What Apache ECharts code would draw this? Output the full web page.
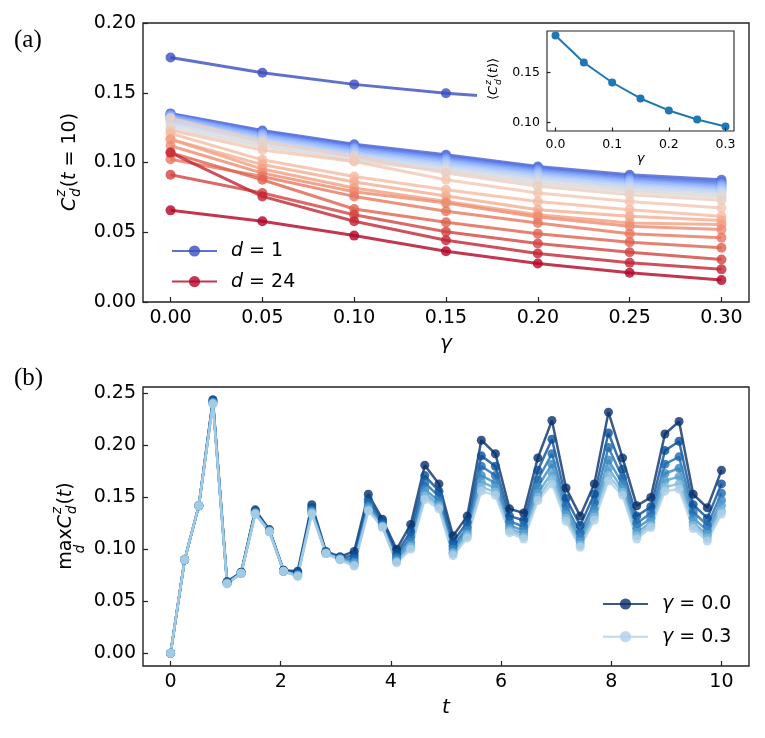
<!DOCTYPE html>
<html>
<head>
<meta charset="utf-8">
<script src="https://cdn.jsdelivr.net/npm/echarts@6/dist/echarts.min.js"></script>
<style>
  html, body { margin: 0; padding: 0; background: #fff; }
  #chart { width: 765px; height: 738px; }
</style>
</head>
<body>
<div id="chart"></div>
<script>
// ---- panel (a): C_d^z(t=10) vs gamma, one row per distance d ----
const gammaA = [0, 0.05, 0.10, 0.15, 0.20, 0.25, 0.30];
const d1  = [0.1753, 0.1643, 0.1560, 0.1496, 0.1450, 0.1410, 0.1380];
const d2  = [0.1352, 0.1229, 0.1131, 0.1055, 0.0971, 0.0912, 0.0876];
const d3  = [0.1348, 0.1222, 0.1122, 0.1045, 0.0962, 0.0900, 0.0862];
const d4  = [0.1344, 0.1215, 0.1114, 0.1036, 0.0953, 0.0891, 0.0852];
const d5  = [0.1340, 0.1208, 0.1106, 0.1028, 0.0945, 0.0883, 0.0843];
const d6  = [0.1335, 0.1201, 0.1098, 0.1020, 0.0937, 0.0875, 0.0835];
const d7  = [0.1328, 0.1193, 0.1089, 0.1011, 0.0928, 0.0866, 0.0826];
const d8  = [0.1320, 0.1184, 0.1079, 0.1001, 0.0918, 0.0856, 0.0816];
const d9  = [0.1310, 0.1173, 0.1068, 0.0990, 0.0907, 0.0845, 0.0805];
const d10 = [0.1298, 0.1161, 0.1056, 0.0978, 0.0895, 0.0833, 0.0793];
const d11 = [0.1282, 0.1147, 0.1042, 0.0964, 0.0881, 0.0819, 0.0780];
const d12 = [0.1262, 0.1130, 0.1026, 0.0948, 0.0866, 0.0804, 0.0765];
const d13 = [0.1240, 0.1115, 0.1010, 0.0940, 0.0850, 0.0790, 0.0750];
const d14 = [0.1317, 0.1150, 0.1043, 0.0925, 0.0829, 0.0769, 0.0729];
const d15 = [0.1230, 0.1090, 0.1007, 0.0876, 0.0781, 0.0721, 0.0674];
const d16 = [0.1209, 0.1019, 0.0900, 0.0805, 0.0721, 0.0662, 0.0614];
const d17 = [0.1167, 0.0985, 0.0860, 0.0760, 0.0662, 0.0614, 0.0585];
const d18 = [0.1167, 0.0953, 0.0817, 0.0721, 0.0626, 0.0567, 0.0555];
const d19 = [0.1120, 0.0924, 0.0790, 0.0710, 0.0610, 0.0543, 0.0519];
const d20 = [0.1024, 0.0900, 0.0757, 0.0650, 0.0567, 0.0490, 0.0460];
const d21 = [0.1071, 0.0876, 0.0667, 0.0571, 0.0490, 0.0429, 0.0389];
const d22 = [0.0912, 0.0781, 0.0626, 0.0503, 0.0419, 0.0357, 0.0305];
const d23 = [0.1071, 0.0757, 0.0579, 0.0443, 0.0348, 0.0281, 0.0234];
const d24 = [0.0657, 0.0579, 0.0476, 0.0364, 0.0276, 0.0210, 0.0157];
const dRows = [d1, d2, d3, d4, d5, d6, d7, d8, d9, d10, d11, d12,
               d13, d14, d15, d16, d17, d18, d19, d20, d21, d22, d23, d24];

// inset: <C_d^z(t)> vs gamma
const insetMean = [0.187, 0.160, 0.140, 0.124, 0.112, 0.103, 0.096];

// ---- panel (b): max_d C_d^z(t) vs t, one row per gamma ----
const tVals = [0, 0.256, 0.513, 0.769, 1.026, 1.282, 1.538, 1.795, 2.051, 2.308,
  2.564, 2.821, 3.077, 3.333, 3.590, 3.846, 4.103, 4.359, 4.615, 4.872,
  5.128, 5.385, 5.641, 5.897, 6.154, 6.410, 6.667, 6.923, 7.179, 7.436,
  7.692, 7.949, 8.205, 8.462, 8.718, 8.974, 9.231, 9.487, 9.744, 10];
const g000 = [0, 0.090, 0.142, 0.244, 0.069, 0.078, 0.138, 0.119, 0.080, 0.079, 0.143, 0.098, 0.093, 0.098, 0.153, 0.129, 0.100, 0.124, 0.181, 0.163, 0.113, 0.132, 0.205, 0.192, 0.139, 0.135, 0.188, 0.224, 0.159, 0.132, 0.163, 0.232, 0.188, 0.142, 0.150, 0.211, 0.223, 0.153, 0.140, 0.176];
const g005 = [0, 0.090, 0.142, 0.243, 0.068, 0.078, 0.137, 0.118, 0.080, 0.0775, 0.140, 0.097, 0.092, 0.094, 0.148, 0.127, 0.096, 0.117, 0.171, 0.156, 0.107, 0.126, 0.190, 0.180, 0.132, 0.128, 0.176, 0.206, 0.149, 0.123, 0.153, 0.212, 0.177, 0.132, 0.141, 0.195, 0.204, 0.143, 0.130, 0.163];
const g010 = [0, 0.090, 0.142, 0.242, 0.068, 0.077, 0.136, 0.118, 0.079, 0.0764, 0.138, 0.097, 0.091, 0.091, 0.145, 0.125, 0.093, 0.112, 0.164, 0.151, 0.103, 0.121, 0.180, 0.171, 0.127, 0.122, 0.167, 0.192, 0.142, 0.116, 0.145, 0.198, 0.169, 0.125, 0.135, 0.182, 0.189, 0.136, 0.123, 0.154];
const g015 = [0, 0.090, 0.142, 0.241, 0.068, 0.077, 0.135, 0.118, 0.079, 0.0756, 0.137, 0.097, 0.091, 0.088, 0.142, 0.123, 0.091, 0.107, 0.158, 0.146, 0.100, 0.118, 0.171, 0.164, 0.123, 0.118, 0.160, 0.182, 0.137, 0.111, 0.139, 0.186, 0.163, 0.120, 0.130, 0.173, 0.178, 0.130, 0.118, 0.147];
const g020 = [0, 0.090, 0.142, 0.241, 0.067, 0.077, 0.135, 0.117, 0.079, 0.0749, 0.136, 0.096, 0.091, 0.087, 0.140, 0.122, 0.089, 0.104, 0.154, 0.143, 0.097, 0.115, 0.165, 0.159, 0.120, 0.115, 0.154, 0.174, 0.133, 0.107, 0.134, 0.178, 0.158, 0.116, 0.126, 0.166, 0.170, 0.126, 0.114, 0.142];
const g025 = [0, 0.090, 0.142, 0.240, 0.067, 0.077, 0.134, 0.117, 0.079, 0.0744, 0.135, 0.096, 0.090, 0.085, 0.138, 0.122, 0.088, 0.102, 0.151, 0.141, 0.096, 0.113, 0.160, 0.155, 0.118, 0.112, 0.150, 0.168, 0.130, 0.104, 0.131, 0.171, 0.155, 0.113, 0.123, 0.160, 0.163, 0.123, 0.111, 0.137];
const g030 = [0, 0.090, 0.142, 0.240, 0.067, 0.077, 0.134, 0.117, 0.079, 0.074, 0.134, 0.096, 0.090, 0.084, 0.137, 0.121, 0.087, 0.100, 0.148, 0.139, 0.094, 0.111, 0.156, 0.152, 0.116, 0.110, 0.147, 0.163, 0.127, 0.102, 0.128, 0.166, 0.152, 0.110, 0.121, 0.156, 0.158, 0.120, 0.108, 0.134];
const gammaLabels = ['0.0', '0.05', '0.1', '0.15', '0.2', '0.25', '0.3'];
const gRows = [g000, g005, g010, g015, g020, g025, g030];

// tick labels
const ticksAx = [0, 0.05, 0.10, 0.15, 0.20, 0.25, 0.30];
const ticksAy = [0, 0.05, 0.10, 0.15, 0.20];
const ticksInX = [0, 0.1, 0.2, 0.3];
const ticksInY = [0.10, 0.15];
const ticksBx = [0, 2, 4, 6, 8, 10];
const ticksBy = [0, 0.05, 0.10, 0.15, 0.20, 0.25];

// colours
const cwAnchors = [[59,76,192],[98,130,234],[141,176,254],[184,208,249],[221,221,221],
                   [245,196,173],[244,154,123],[222,96,77],[180,4,38]];
function coolwarm(f) {
  const p = f * 8, i = Math.min(7, Math.floor(p)), r = p - i;
  const a = cwAnchors[i], b = cwAnchors[i + 1];
  return 'rgb(' + a.map((v, k) => Math.round(v + (b[k] - v) * r)).join(',') + ')';
}
const blues = ['#08306b', '#084d96', '#1b69af', '#3787c0', '#58a1cf', '#83bbdb', '#afd1e7'];

const FONT = 'DejaVu Sans';
const mctx = document.createElement('canvas').getContext('2d');
function measure(t, s, it) {
  mctx.font = (it ? 'italic ' : '') + s + 'px "' + FONT + '"';
  return mctx.measureText(t).width;
}
function txt(t, x, y, s, it) {
  return { type: 'text', x: x, y: y, z: 10,
    style: { text: t, fontSize: s, fontStyle: it ? 'italic' : 'normal', fontFamily: FONT,
             fill: '#000', verticalAlign: 'middle', align: 'left' } };
}
// rotated math-like label built from pieces
function mathLabel(cx, cy, tokens, base) {
  let x = 0; const kids = [];
  tokens.forEach(tok => {
    if (tok.t !== undefined) {
      const s = tok.s || base, w = measure(tok.t, s, tok.i);
      kids.push(txt(tok.t, x, 0, s, tok.i));
      if (tok.under) {
        const us = base * 0.7;
        kids.push(txt(tok.under, x + w / 2 - measure(tok.under, us, true) / 2, base * 0.78, us, true));
      }
      x += w;
    } else {
      const s = base * 0.7;
      const w = Math.max(measure(tok.sup, s, true), measure(tok.sub, s, true));
      kids.push(txt(tok.sup, x + 1, -base * 0.42, s, true));
      kids.push(txt(tok.sub, x + 1, base * 0.32, s, true));
      x += w + 2;
    }
  });
  kids.forEach(k => { k.x -= x / 2; });
  return { type: 'group', x: cx, y: cy, rotation: Math.PI / 2, children: kids, z: 10 };
}

function valAxis(gi, min, max, ticks, dec, size, tickLen, z) {
  return {
    gridIndex: gi, type: 'value', min: min, max: max, z: z || 0,
    axisLine: { show: false, onZero: false },
    splitLine: { show: false },
    axisTick: { inside: true, length: tickLen, customValues: ticks, lineStyle: { color: '#222', width: 1.2 } },
    axisLabel: { customValues: ticks, formatter: v => v.toFixed(dec), fontSize: size,
                 color: '#000', fontFamily: FONT, margin: 7 }
  };
}

const series = [];
dRows.forEach((row, k) => {
  const col = coolwarm(k / 23);
  series.push({
    name: 'd = ' + (k + 1), type: 'line', xAxisIndex: 0, yAxisIndex: 0,
    data: gammaA.map((g, j) => [g, row[j]]),
    symbol: 'circle', symbolSize: 10, z: 2,
    lineStyle: { color: col, width: 3, opacity: 0.8 },
    itemStyle: { color: col, opacity: 0.8 }
  });
});
series.push({
  name: 'inset', type: 'line', xAxisIndex: 1, yAxisIndex: 1, z: 5,
  data: gammaA.map((g, j) => [g, insetMean[j]]),
  symbol: 'circle', symbolSize: 8,
  lineStyle: { color: '#1f77b4', width: 2 }, itemStyle: { color: '#1f77b4' }
});
gRows.forEach((row, k) => {
  series.push({
    name: 'γ = ' + gammaLabels[k], type: 'line', xAxisIndex: 2, yAxisIndex: 2,
    data: tVals.map((t, j) => [t, row[j]]),
    symbol: 'circle', symbolSize: 9, z: 2,
    lineStyle: { color: blues[k], width: 2.5, opacity: 0.8 },
    itemStyle: { color: blues[k], opacity: 0.8 }
  });
});

const legendText = { fontSize: 19, fontFamily: FONT, color: '#000', lineHeight: 20,
                     padding: [0, 0, 0, 9], rich: { i: { fontStyle: 'italic', fontSize: 19, fontFamily: FONT } } };

const chart = echarts.init(document.getElementById('chart'));
chart.setOption({
  animation: false,
  backgroundColor: '#fff',
  grid: [
    { left: 143, top: 23, width: 606, height: 279, show: true, borderColor: '#222', borderWidth: 1.4, backgroundColor: 'transparent' },
    { left: 547, top: 31, width: 187, height: 100, show: true, borderColor: '#222', borderWidth: 1.1, backgroundColor: '#fff', z: 4 },
    { left: 143, top: 387, width: 606, height: 279, show: true, borderColor: '#222', borderWidth: 1.4, backgroundColor: 'transparent' }
  ],
  xAxis: [
    Object.assign(valAxis(0, -0.015, 0.315, ticksAx, 2, 19, 5), {
      name: 'γ', nameLocation: 'middle', nameGap: 32,
      nameTextStyle: { fontSize: 20, fontStyle: 'italic', fontFamily: FONT, color: '#000' } }),
    Object.assign(valAxis(1, -0.015, 0.315, ticksInX, 1, 12.5, 3.5, 6), {
      name: 'γ', nameLocation: 'middle', nameGap: 20,
      nameTextStyle: { fontSize: 13, fontStyle: 'italic', fontFamily: FONT, color: '#000' } }),
    Object.assign(valAxis(2, -0.5, 10.5, ticksBx, 0, 19, 5), {
      name: 't', nameLocation: 'middle', nameGap: 32,
      nameTextStyle: { fontSize: 20, fontStyle: 'italic', fontFamily: FONT, color: '#000' } })
  ],
  yAxis: [
    valAxis(0, 0, 0.2, ticksAy, 2, 19, 5),
    valAxis(1, 0.0914, 0.1916, ticksInY, 2, 12.5, 3.5, 6),
    valAxis(2, -0.0122, 0.2562, ticksBy, 2, 19, 5)
  ],
  legend: [
    { data: ['d = 1', 'd = 24'], orient: 'vertical', left: 166, top: 236, itemWidth: 45, itemHeight: 14,
      itemGap: 10.6, selectedMode: false, textStyle: legendText,
      formatter: n => '{i|d} = ' + n.slice(4) },
    { data: ['γ = 0.0', 'γ = 0.3'], orient: 'vertical', left: 597, top: 589, itemWidth: 45, itemHeight: 14,
      itemGap: 12.7, selectedMode: false, textStyle: legendText,
      formatter: n => '{i|γ} = ' + n.slice(4) }
  ],
  graphic: [
    // white backing of the inset, hides the d = 1 curve behind it
    { type: 'rect', shape: { x: 477, y: 24.5, width: 271, height: 126 }, style: { fill: '#fff' }, z: 3, silent: true },
    mathLabel(70, 162, [{ t: 'C', i: true }, { sup: 'z', sub: 'd' }, { t: '(' }, { t: 't', i: true }, { t: ' = 10)' }], 19),
    mathLabel(66, 526, [{ t: 'max', under: 'd' }, { t: 'C', i: true }, { sup: 'z', sub: 'd' }, { t: '(' }, { t: 't', i: true }, { t: ')' }], 19),
    mathLabel(494, 79, [{ t: '⟨' }, { t: 'C', i: true }, { sup: 'z', sub: 'd' }, { t: '(' }, { t: 't', i: true }, { t: ')⟩' }], 13),
    { type: 'text', x: 14, y: 40, z: 10, style: { text: '(a)', fontSize: 25, fontFamily: 'Liberation Serif', fill: '#000', verticalAlign: 'middle' } },
    { type: 'text', x: 14, y: 378, z: 10, style: { text: '(b)', fontSize: 25, fontFamily: 'Liberation Serif', fill: '#000', verticalAlign: 'middle' } }
  ],
  series: series
});
</script>
</body>
</html>
